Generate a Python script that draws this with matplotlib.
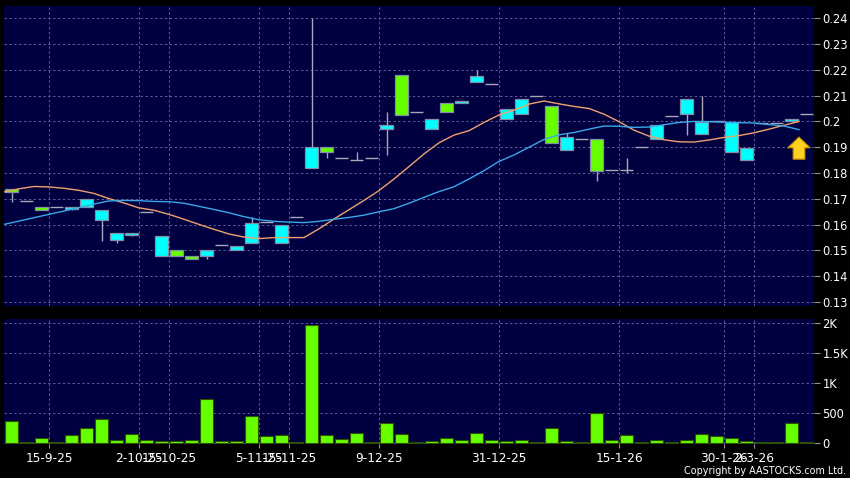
import numpy as np
import matplotlib
matplotlib.use("Agg")
import matplotlib.pyplot as plt

# OHLC (price panel)
opens = [0.174, 0.169, 0.167, 0.167, 0.166, 0.167, 0.162, 0.154, 0.156, 0.165,
         0.148, 0.150, 0.148, 0.148, 0.152, 0.150, 0.153, 0.161, 0.153, 0.163,
         0.182, 0.190, 0.186, 0.185, 0.186, 0.197, 0.218, 0.2035, 0.197, 0.207,
         0.207, 0.2153, 0.2145, 0.201, 0.203, 0.210, 0.206, 0.189, 0.193, 0.193,
         0.181, 0.181, 0.190, 0.193, 0.202, 0.203, 0.195, 0.200, 0.188, 0.185,
         0.1995, 0.1995, 0.200, 0.203]
closes = [0.1726, 0.169, 0.1657, 0.167, 0.1668, 0.170, 0.1657, 0.1567, 0.1567, 0.165,
          0.1556, 0.148, 0.1468, 0.150, 0.152, 0.1518, 0.1606, 0.161, 0.1597, 0.163,
          0.190, 0.188, 0.186, 0.185, 0.186, 0.1987, 0.2025, 0.2035, 0.2009, 0.2037,
          0.208, 0.2175, 0.2145, 0.2048, 0.2086, 0.210, 0.1917, 0.1941, 0.193, 0.1809,
          0.181, 0.181, 0.190, 0.1988, 0.202, 0.2086, 0.1997, 0.200, 0.1996, 0.1897,
          0.1995, 0.1995, 0.2011, 0.203]
highs = [0.174, 0.169, 0.167, 0.167, 0.1668, 0.170, 0.1657, 0.1567, 0.1567, 0.165,
         0.1556, 0.150, 0.148, 0.150, 0.152, 0.1518, 0.163, 0.161, 0.1597, 0.163,
         0.240, 0.190, 0.186, 0.188, 0.186, 0.2036, 0.218, 0.2035, 0.2009, 0.207,
         0.208, 0.220, 0.2145, 0.2048, 0.2086, 0.210, 0.206, 0.1957, 0.193, 0.193,
         0.181, 0.186, 0.190, 0.1988, 0.202, 0.2086, 0.210, 0.200, 0.1996, 0.1897,
         0.1995, 0.1995, 0.2011, 0.203]
lows = [0.1687, 0.169, 0.1657, 0.167, 0.1657, 0.167, 0.1536, 0.1528, 0.1557, 0.165,
        0.148, 0.148, 0.1468, 0.1468, 0.152, 0.150, 0.153, 0.161, 0.153, 0.163,
        0.182, 0.186, 0.186, 0.185, 0.186, 0.187, 0.2025, 0.2035, 0.197, 0.2037,
        0.207, 0.2153, 0.2145, 0.201, 0.203, 0.210, 0.1917, 0.189, 0.193, 0.177,
        0.181, 0.180, 0.190, 0.193, 0.202, 0.1948, 0.195, 0.200, 0.188, 0.185,
        0.1995, 0.1995, 0.1999, 0.203]

volumes = [375, 22, 83, 17, 138, 259, 402, 55, 154, 55,
           39, 39, 55, 733, 39, 39, 452, 116, 132, 17,
           1956, 138, 77, 176, 17, 336, 154, 28, 39, 83,
           55, 176, 61, 39, 55, 17, 259, 39, 17, 503,
           55, 138, 17, 55, 17, 55, 154, 121, 83, 39,
           17, 17, 336, 17]

# moving averages (orange = short, blue = long)
ma_short = [0.1727, 0.1739, 0.1748, 0.1746, 0.1741, 0.1733, 0.1721, 0.1701, 0.1684, 0.1665,
            0.1656, 0.1640, 0.1621, 0.1601, 0.1582, 0.1564, 0.1552, 0.1546, 0.1550, 0.1550,
            0.1550, 0.1584, 0.1622, 0.1658, 0.1694, 0.1732, 0.1777, 0.1825, 0.1874, 0.1917,
            0.1947, 0.1964, 0.1996, 0.2025, 0.2044, 0.2067, 0.2079, 0.2068, 0.2058, 0.2050,
            0.2028, 0.1999, 0.1966, 0.1943, 0.1929, 0.1921, 0.1920, 0.1928, 0.1938, 0.1945,
            0.1956, 0.1970, 0.1985, 0.2000]
ma_long = [0.1601, 0.1614, 0.1627, 0.1640, 0.1653, 0.1666, 0.1680, 0.1692, 0.1694, 0.1693,
           0.1690, 0.1689, 0.1683, 0.1671, 0.1659, 0.1646, 0.1631, 0.1619, 0.1613, 0.1610,
           0.1608, 0.1613, 0.1621, 0.1628, 0.1637, 0.1650, 0.1662, 0.1683, 0.1706, 0.1728,
           0.1747, 0.1777, 0.1809, 0.1845, 0.1870, 0.1900, 0.1930, 0.1948, 0.1957, 0.1970,
           0.1982, 0.1981, 0.1977, 0.1978, 0.1987, 0.1996, 0.2000, 0.1999, 0.1997, 0.1995,
           0.1994, 0.1988, 0.1982, 0.1968]

date_labels = ["15-9-25", "2-10-25", "15-10-25", "5-11-25", "15-11-25", "9-12-25",
               "31-12-25", "15-1-26", "30-1-26", "2-3-26"]
date_idx = [2, 8, 10, 16, 18, 24, 32, 40, 47, 49]

price_ticks = [0.13, 0.14, 0.15, 0.16, 0.17, 0.18, 0.19, 0.20, 0.21, 0.22, 0.23, 0.24]
vol_ticks = [0, 500, 1000, 1500, 2000]
vol_labels = ["0", "500", "1K", "1.5K", "2K"]

BG = "#000000"
PANEL = "#000040"
GRID = "#5c5c96"
CYAN = "#00ffff"
GREEN = "#66ff00"
WICK = "#a8a8b8"

n = len(opens)
x = np.arange(n)
W, H = 850, 478

fig = plt.figure(figsize=(8.5, 4.78), dpi=100, facecolor=BG)
ax = fig.add_axes([4 / W, 1 - 306 / H, 810 / W, 300 / H], facecolor=PANEL)
ax2 = fig.add_axes([4 / W, 1 - 444 / H, 810 / W, 125 / H], facecolor=PANEL, sharex=ax)

for a in (ax, ax2):
    for s in a.spines.values():
        s.set_visible(False)
    a.grid(True, color=GRID, linestyle=(0, (2.5, 2.5)), linewidth=0.7)
    a.set_axisbelow(True)
    a.yaxis.tick_right()
    a.tick_params(axis="y", colors="#9090a0", labelcolor="white", length=4, labelsize=8.3, pad=2)

# candles
bw = 0.85
for i in range(n):
    o, c, h, l = opens[i], closes[i], highs[i], lows[i]
    if h > max(o, c):
        ax.vlines(i, max(o, c), h, color=WICK, lw=1, zorder=2)
    if l < min(o, c):
        ax.vlines(i, l, min(o, c), color=WICK, lw=1, zorder=2)
    if abs(c - o) < 1e-9:
        ax.hlines(o, i - bw / 2, i + bw / 2, color=WICK, lw=1, zorder=3)
    else:
        col = CYAN if c > o else GREEN
        ax.bar(i, abs(c - o), bottom=min(o, c), width=bw, color=col,
               edgecolor="#7f8fa6", linewidth=0.9, zorder=3)

ax.plot(x - 0.5, ma_short, color="#f0a070", lw=1, zorder=4)
ax.plot(x - 0.5, ma_long, color="#3aa8e8", lw=1, zorder=4)

# yellow arrow next to the last bar
ax.annotate("", xy=(n - 1.5, ma_long[-1] - 0.0018), xytext=(n - 1.5, ma_long[-1] - 0.0125),
            arrowprops=dict(arrowstyle="simple,head_width=1.15,head_length=0.55,tail_width=0.6",
                            mutation_scale=14, fc="#ffd020", ec="#c89000", lw=0.8), zorder=5)

ax.set_ylim(0.1285, 0.2447)
ax.set_yticks(price_ticks)
ax.set_yticklabels(["%g" % t for t in price_ticks])
ax.set_xlim(-0.5, n - 0.5)
ax.set_xticks(np.array(date_idx) + 0.5)
ax.tick_params(axis="x", length=0, labelbottom=False)

# volume
ax2.bar(x, volumes, width=0.87, color=GREEN, edgecolor="#2c5200", linewidth=0.8, zorder=3)
ax2.set_ylim(-10, 2060)
ax2.set_yticks(vol_ticks)
ax2.set_yticklabels(vol_labels)
ax2.set_xticklabels(date_labels)
ax2.tick_params(axis="x", colors="#9090a0", labelcolor="white", length=3, labelsize=8.7, pad=3)

fig.text(846 / W, 1 - 476 / H, "Copyright by AASTOCKS.com Ltd.", color="white",
         fontsize=6.9, ha="right", va="bottom")

fig.savefig("out.png", dpi=100, facecolor=BG)
